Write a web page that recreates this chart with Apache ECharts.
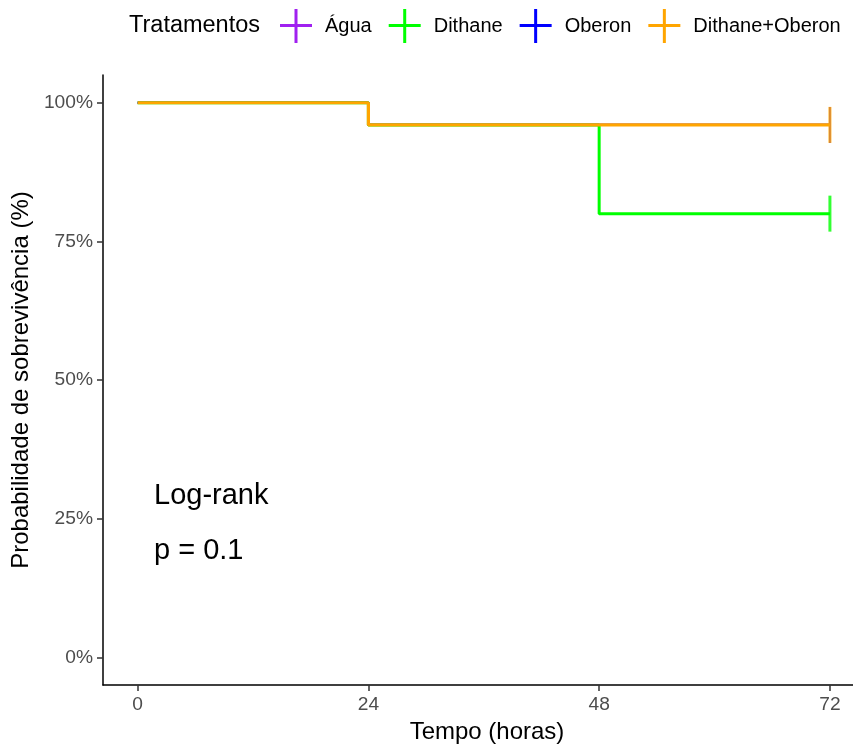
<!DOCTYPE html>
<html>
<head>
<meta charset="utf-8">
<title>Curva de sobrevivência</title>
<script src="https://cdn.jsdelivr.net/npm/echarts@6/dist/echarts.min.js"></script>
<style>
    html, body { margin: 0; padding: 0; background: #ffffff; }
    #main { width: 853px; height: 749px; }
</style>
</head>
<body>
<div id="main"></div>
<script>
    // tempos de avaliação (horas)
    var tempos = [0, 24, 48, 72];
    // probabilidade de sobrevivência em cada tempo
    var agua = [1, 0.96, 0.96, 0.96];
    var dithane = [1, 0.96, 0.80, 0.80];
    var oberon = [1, 0.96, 0.96, 0.96];
    var dithaneOberon = [1, 0.96, 0.96, 0.96];

    var tratamentos = ['Água', 'Dithane', 'Oberon', 'Dithane+Oberon'];
    var cores = ['#A020F0', '#00FF00', '#0000FF', '#FFA500'];
    var xTicks = [0, 24, 48, 72];
    var yTicks = [0, 0.25, 0.5, 0.75, 1];

    var fonte = '"Liberation Sans", Arial, sans-serif';
    // icone "+" da legenda (linha + marca de censura)
    var iconeMais = 'path://M0,15 H14.5 V0 H17.5 V15 H32 V18 H17.5 V34 H14.5 V18 H0 Z';

    var chart = echarts.init(document.getElementById('main'));
    var valores = [agua, dithane, oberon, dithaneOberon];

    var series = [];
    // curvas em escada (a última fica por cima)
    tratamentos.forEach(function (nome, i) {
        var larg = i === 1 ? 3 : (i === tratamentos.length - 1 ? 3.2 : 2.2);
        series.push({
            name: nome,
            type: 'line',
            step: 'end',
            symbol: 'none',
            color: cores[i],
            lineStyle: { width: larg, color: cores[i] },
            data: tempos.map(function (t, k) { return [t, valores[i][k]]; }),
            z: 2 + i
        });
    });
    // marcas de censura no último tempo
    tratamentos.forEach(function (nome, i) {
        var ult = tempos.length - 1;
        series.push({
            name: nome,
            type: 'scatter',
            symbol: 'rect',
            symbolSize: [i === 1 || i === tratamentos.length - 1 ? 3 : 1.4, 36],
            itemStyle: { color: cores[i] },
            data: [[tempos[ult], valores[i][ult]]],
            z: 2 + i
        });
    });

    chart.setOption({
        animation: false,
        textStyle: { fontFamily: fonte },
        graphic: [
            {
                type: 'text', left: 129, top: 14,
                style: { text: 'Tratamentos', fontSize: 23.5, fill: '#000', fontFamily: fonte }
            },
            {
                type: 'text', left: 154, top: 481,
                style: { text: 'Log-rank', fontSize: 29, fill: '#000', fontFamily: fonte }
            },
            {
                type: 'text', left: 154, top: 536,
                style: { text: 'p = 0.1', fontSize: 29, fill: '#000', fontFamily: fonte }
            }
        ],
        legend: {
            left: 275,
            top: 4,
            itemWidth: 32,
            itemHeight: 34,
            itemGap: 17,
            data: tratamentos.map(function (n) { return { name: n, icon: iconeMais }; }),
            textStyle: { fontSize: 20, color: '#000', fontFamily: fonte, padding: [0, 0, 0, 8] }
        },
        grid: { left: 103, right: 0, top: 75, bottom: 60 },
        xAxis: {
            type: 'value',
            min: -3.6,
            max: 74.4,
            name: 'Tempo (horas)',
            nameLocation: 'middle',
            nameGap: 35,
            nameTextStyle: { fontSize: 24, color: '#000', padding: [0, 0, 0, 18] },
            axisLine: { onZero: false, lineStyle: { color: '#000', width: 1.5 } },
            axisTick: { length: 6, customValues: xTicks, lineStyle: { color: '#333', width: 1.5 } },
            axisLabel: { customValues: xTicks, fontSize: 19.2, color: '#4D4D4D', margin: 10 },
            splitLine: { show: false }
        },
        yAxis: {
            type: 'value',
            min: -0.05,
            max: 1.05,
            name: 'Probabilidade de sobrevivência (%)',
            nameLocation: 'middle',
            nameGap: 66,
            nameTextStyle: { fontSize: 24, color: '#000' },
            axisLine: { show: true, onZero: false, lineStyle: { color: '#000', width: 1.5 } },
            axisTick: { show: true, length: 6, customValues: yTicks, lineStyle: { color: '#333', width: 1.5 } },
            axisLabel: {
                customValues: yTicks, fontSize: 19.2, color: '#4D4D4D', margin: 10,
                formatter: function (v) { return Math.round(v * 100) + '%'; }
            },
            splitLine: { show: false }
        },
        series: series
    });
</script>
</body>
</html>
